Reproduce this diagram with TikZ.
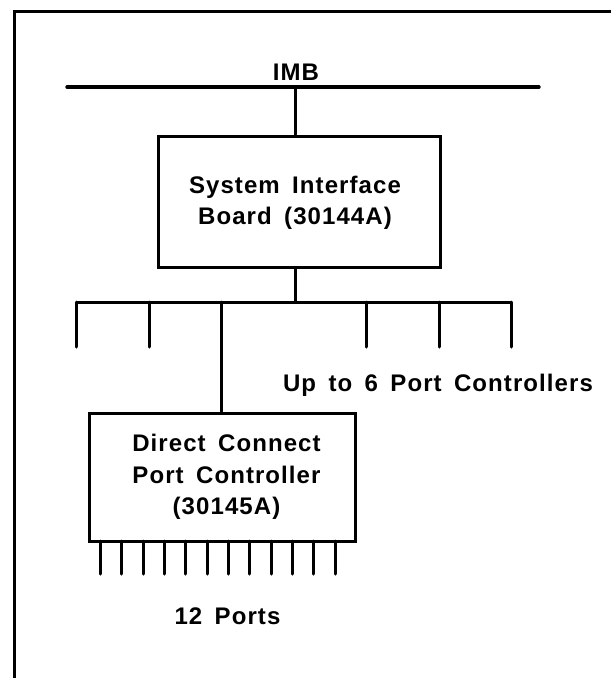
\documentclass[tikz,border=0pt]{standalone}
\usepackage{fontspec}
\setmainfont{Liberation Sans}
\newfontfamily\diafont[LetterSpace=4.5,WordSpace=1.6]{Liberation Sans}
\begin{document}
\begin{tikzpicture}[x=1pt,y=-1pt,
  wire/.style={line width=3pt,line cap=round},
  boxst/.style={draw,line width=3pt,inner sep=0pt,align=center},
  lbl/.style={font=\diafont\fontsize{24}{31.5}\selectfont\bfseries,inner sep=0pt,align=center}]
\useasboundingbox (0,0) rectangle (611,678);
\fill[white] (0,0) rectangle (611,678);
% frame (cut at right and bottom)
\coordinate (fTL) at (14,11);
\coordinate (fTR) at (615,11);
\coordinate (fBL) at (14,682);
\draw[line width=3pt] (fTR) -- (fTL) -- (fBL);
% IMB bus
\node[lbl] (imb) at (296,72) {IMB};
\coordinate (busL) at (67,87);
\coordinate (busR) at (539,87);
\coordinate (busT) at (295,87);
\draw[line width=3.4pt,line cap=round] (busL) -- (busR);
% System interface board
\node[boxst,minimum width=282pt,minimum height=131pt] (sib) at (299.5,201.5) {};
\node[lbl] (sibtxt) at (295,203) {System Interface\\Board (30144A)};
\draw[wire] (busT) -- (busT |- sib.north);
% branch
\coordinate (brT) at (295,302);
\coordinate (brL) at (76,302);
\coordinate (brR) at (511,302);
\draw[wire] (brT |- sib.south) -- (brT);
\draw[wire,line cap=butt] (brL) -- (brR);
\foreach \x/\n in {76/a,149/b,366/d,439/e,511/f}{
  \coordinate (d\n t) at (\x,302);
  \coordinate (d\n b) at (\x,347);
  \draw[wire] (d\n t) -- (d\n b);
}
\node[lbl] (upto) at (438,385) {Up to 6 Port Controllers};
% direct connect port controller
\node[boxst,minimum width=266pt,minimum height=128pt] (dcpc) at (222,477) {};
\node[lbl] (dcpctxt) at (226.5,477) {Direct Connect\\Port Controller\\(30145A)};
\coordinate (dct) at (221,302);
\draw[wire] (dct) -- (dct |- dcpc.north);
% ports
\foreach \i in {0,...,11}{
  \coordinate (p\i t) at ({100.5+\i*21.32},541);
  \coordinate (p\i b) at ({100.5+\i*21.32},574);
  \draw[wire] (p\i t) -- (p\i b);
}
\node[lbl] (ports) at (227.5,616) {12 Ports};
\end{tikzpicture}
\end{document}
